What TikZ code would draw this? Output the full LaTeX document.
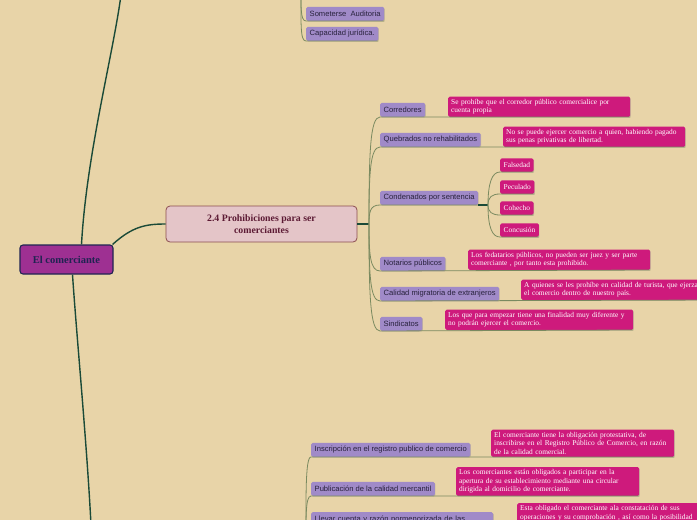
\documentclass[tikz,border=0pt]{standalone}
\usepackage{fontspec}
\setmainfont{Liberation Serif}
\setsansfont{Liberation Sans}
\usetikzlibrary{shadows}
\definecolor{paper}{RGB}{232,212,168}
\definecolor{rootfill}{RGB}{158,48,146}
\definecolor{rootline}{RGB}{32,36,82}
\definecolor{topicfill}{RGB}{228,197,200}
\definecolor{topicline}{RGB}{140,78,80}
\definecolor{topictext}{RGB}{92,26,52}
\definecolor{itemfill}{RGB}{160,138,200}
\definecolor{itemtext}{RGB}{40,34,60}
\definecolor{notefill}{RGB}{206,26,124}
\definecolor{trunk}{RGB}{26,74,56}
\definecolor{twig}{RGB}{122,138,96}
\begin{document}
\begin{tikzpicture}[x=1pt,y=-1pt,
  root/.style={draw=rootline,line width=1.1pt,fill=rootfill,rounded corners=3pt,text=rootline,
    font=\bfseries\fontsize{10.5}{12}\selectfont,minimum width=93,minimum height=29,inner sep=0},
  topic/.style={draw=topicline,line width=0.8pt,fill=topicfill,rounded corners=4pt,text=topictext,
    font=\bfseries\fontsize{9.8}{12}\selectfont,align=center,minimum width=191,minimum height=36,inner sep=0},
  item/.style={fill=itemfill,text=itemtext,rounded corners=1.5pt,font=\sffamily\fontsize{7.6}{8.5}\selectfont,
    inner xsep=3.5,inner ysep=0,minimum height=14,anchor=south west,
    drop shadow={shadow xshift=0.6pt,shadow yshift=-0.8pt,opacity=0.3}},
  note/.style={fill=notefill,text=white,rounded corners=1.5pt,font=\fontsize{7.4}{8.6}\selectfont,
    align=left,inner xsep=3,inner ysep=2.4,anchor=south west,
    drop shadow={shadow xshift=0.6pt,shadow yshift=-0.8pt,opacity=0.3}},
  word/.style={note,minimum height=13.5,inner xsep=3.5},
  trunkline/.style={draw=trunk,line width=1.4pt},
  twigline/.style={draw=twig,line width=0.8pt}]
\useasboundingbox (0,0) rectangle (697,520);
\fill[paper] (0,0) rectangle (697,520);
\clip (0,0) rectangle (697,520);

% main nodes
\node[root] (root) at (66.5,259.5) {El comerciante};
\node[topic] (prohib) at (261.5,224) {2.4 Prohibiciones para ser\\comerciantes};
\coordinate (up) at (121,-5);
\coordinate (down) at (91,525);
\coordinate (hub) at (369,224);

% prohibiciones
\node[item] (cor) at (380,117) {Corredores};
\node[note,text width=176] (cor-n) at (448,117) {Se prohíbe que el corredor público comercialice por\\cuenta propia};
\node[item] (queb) at (380,147) {Quebrados no rehabilitados};
\node[note,text width=176] (queb-n) at (503,147) {No se puede ejercer comercio a quien, habiendo pagado\\sus penas privativas de libertad.};
\node[item] (cond) at (380,205) {Condenados por sentencia};
\coordinate (hub2) at (488,205);
\node[word] (fals) at (500,172) {Falsedad};
\node[word] (pecu) at (500,194) {Peculado};
\node[word] (cohe) at (500,215) {Cohecho};
\node[word] (conc) at (500,237) {Concusión};
\node[item] (nota) at (380,271) {Notarios públicos};
\node[note,text width=176] (nota-n) at (468,270) {Los fedatarios públicos, no pueden ser juez y ser parte\\comerciante , por tanto esta prohibido.};
\node[item] (migr) at (380,301) {Calidad migratoria de extranjeros};
\node[note,text width=190] (migr-n) at (521,300) {A quienes se les prohíbe en calidad de turista, que ejerzan\\el comercio dentro de nuestro país.};
\node[item] (sind) at (380,331) {Sindicatos};
\node[note,text width=182] (sind-n) at (445,330) {Los que para empezar tiene una finalidad muy diferente y\\no podrán ejercer el comercio.};

% ramas de arriba y de abajo
\coordinate (tophub) at (301,-20);
\node[item] (aud) at (306,21) {Someterse\ \ Auditoria};
\node[item] (cap) at (306,41) {Capacidad jurídica.};
\coordinate (bothub) at (306,560);
\node[item] (ins) at (311,457) {Inscripción en el registro publico de comercio};
\node[note,text width=177] (ins-n) at (491,457) {El comerciante tiene la obligación protestativa, de\\inscribirse en el Registro Público de Comercio, en razón\\de la calidad comercial.};
\node[item] (pub) at (311,496) {Publicación de la calidad mercantil};
\node[note,text width=177] (pub-n) at (456,496) {Los comerciantes están obligados a participar en la\\apertura de su establecimiento mediante una circular\\dirigida al domicilio de comerciante.};
\node[item,anchor=north west,text width=175,inner ysep=3] (llev) at (311,512) {Llevar cuenta y razón pormenorizada de las};
\node[note,anchor=north west,text width=176] (llev-n) at (517,503) {Esta obligado el comerciante ala constatación de sus\\operaciones y su comprobación , así como la posibilidad};

% conectores
\draw[trunkline] ([xshift=-1]root.north east) .. controls +(20,-18) and +(-20,0) .. (prohib.west);
\draw[trunkline] ([xshift=15]root.north) .. controls +(5,-90) and +(-8,60) .. (up);
\draw[trunkline] ([xshift=6]root.south) .. controls +(4,60) and +(-4,-80) .. (down);
\draw[trunkline] (prohib.east) -- (hub);
\foreach \n/\c in {cor/-70,queb/-50,nota/30,migr/50,sind/70}
  \draw[twigline] (hub) .. controls +(0,\c) and +(-10,0) .. (\n.south west) -- (\n-n.south east);
\draw[twigline] (hub) .. controls +(0,-12) and +(-10,0) .. (cond.south west) -- (cond.south east);
\draw[trunkline] (cond.south east) -- (hub2);
\foreach \n/\c in {fals/-22,pecu/-8,cohe/7,conc/22}
  \draw[twigline] (hub2) .. controls +(0,\c) and +(-8,0) .. (\n.south west) -- (\n.south east);
\foreach \n/\c in {aud/25,cap/45}
  \draw[twigline] (tophub) .. controls +(0,\c) and +(-6,0) .. (\n.south west) -- (\n.south east);
\foreach \n/\c in {ins/-60,pub/-40}
  \draw[twigline] (bothub) .. controls +(0,\c) and +(-6,0) .. (\n.south west) -- (\n-n.south east);
\draw[twigline] (bothub) .. controls +(0,-10) and +(-6,0) .. (llev.south west);
\end{tikzpicture}
\end{document}
